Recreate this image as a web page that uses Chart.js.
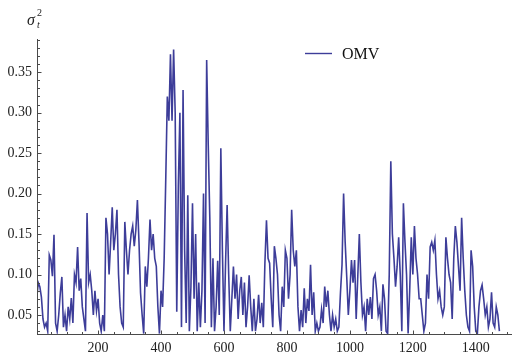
<!DOCTYPE html>
<html>
<head>
<meta charset="utf-8">
<script src="https://cdn.jsdelivr.net/npm/chart.js@4.4.0/dist/chart.umd.min.js"></script>
<style>
  html, body { margin: 0; padding: 0; background: #fff; }
  #grafico { display: block; }
</style>
</head>
<body>
<canvas id="grafico" width="523" height="358"></canvas>
<script>
// conditional variance of OMV, one value every 5 observations
const step = 5;
const sigma2 = [
  0.040, 0.070, 0.090, 0.085, 0.072, 0.045, 0.035, 0.040, 0.030, 0.124,
  0.118, 0.098, 0.149, 0.040, 0.030, 0.050, 0.077, 0.097, 0.035, 0.050,
  0.030, 0.060, 0.045, 0.071, 0.040, 0.100, 0.090, 0.134, 0.080, 0.095,
  0.060, 0.045, 0.030, 0.176, 0.090, 0.100, 0.080, 0.050, 0.080, 0.055,
  0.070, 0.040, 0.030, 0.050, 0.030, 0.170, 0.150, 0.100, 0.140, 0.183,
  0.130, 0.150, 0.180, 0.100, 0.060, 0.040, 0.035, 0.165, 0.130, 0.100,
  0.130, 0.150, 0.160, 0.135, 0.155, 0.192, 0.140, 0.077, 0.050, 0.027,
  0.110, 0.085, 0.120, 0.168, 0.130, 0.150, 0.120, 0.110, 0.060, 0.027,
  0.080, 0.060, 0.120, 0.217, 0.320, 0.290, 0.372, 0.290, 0.378, 0.300,
  0.054, 0.210, 0.300, 0.035, 0.328, 0.130, 0.040, 0.198, 0.030, 0.085,
  0.188, 0.070, 0.150, 0.030, 0.090, 0.035, 0.080, 0.200, 0.040, 0.365,
  0.260, 0.170, 0.035, 0.120, 0.030, 0.060, 0.117, 0.050, 0.256, 0.130,
  0.030, 0.114, 0.186, 0.100, 0.030, 0.070, 0.110, 0.070, 0.100, 0.045,
  0.080, 0.097, 0.050, 0.090, 0.035, 0.060, 0.099, 0.060, 0.030, 0.070,
  0.030, 0.045, 0.075, 0.040, 0.065, 0.035, 0.114, 0.167, 0.120, 0.114,
  0.070, 0.035, 0.135, 0.120, 0.100, 0.050, 0.030, 0.085, 0.060, 0.130,
  0.120, 0.070, 0.100, 0.180, 0.130, 0.110, 0.130, 0.060, 0.030, 0.056,
  0.035, 0.083, 0.040, 0.070, 0.055, 0.112, 0.050, 0.078, 0.030, 0.040,
  0.030, 0.035, 0.057, 0.040, 0.085, 0.060, 0.080, 0.050, 0.030, 0.050,
  0.035, 0.045, 0.030, 0.035, 0.077, 0.112, 0.200, 0.140, 0.097, 0.050,
  0.080, 0.118, 0.090, 0.118, 0.045, 0.097, 0.150, 0.090, 0.050, 0.060,
  0.030, 0.070, 0.050, 0.072, 0.045, 0.095, 0.100, 0.080, 0.050, 0.060,
  0.030, 0.088, 0.070, 0.030, 0.027, 0.100, 0.240, 0.150, 0.120, 0.085,
  0.110, 0.146, 0.100, 0.030, 0.188, 0.140, 0.100, 0.027, 0.080, 0.146,
  0.100, 0.160, 0.120, 0.100, 0.070, 0.070, 0.050, 0.030, 0.040, 0.100,
  0.070, 0.134, 0.140, 0.130, 0.142, 0.100, 0.070, 0.080, 0.060, 0.050,
  0.060, 0.146, 0.120, 0.100, 0.090, 0.045, 0.120, 0.160, 0.140, 0.110,
  0.080, 0.170, 0.120, 0.080, 0.050, 0.035, 0.030, 0.130, 0.110, 0.060,
  0.030, 0.027, 0.060, 0.080, 0.087, 0.070, 0.050, 0.060, 0.035, 0.045,
  0.078, 0.040, 0.035, 0.060, 0.050, 0.030
];
const xTicks = [200, 400, 600, 800, 1000, 1200, 1400];
const yTicks = [0.05, 0.10, 0.15, 0.20, 0.25, 0.30, 0.35];

const corLinha = '#3d3d99';
const corEixo = '#4a4a4a';
const fonteSerif = '"Liberation Serif", "DejaVu Serif", serif';

const pontos = sigma2.map((v, i) => ({ x: i * step, y: v }));

// axes drawn Mathematica style: lines through the origin with inward ticks
const eixosPlugin = {
  id: 'eixos',
  afterDraw(chart) {
    const { ctx, chartArea: a, scales: { x, y } } = chart;
    ctx.save();
    ctx.strokeStyle = corEixo;
    ctx.lineWidth = 1;
    ctx.beginPath();
    const x0 = Math.round(a.left) + 0.5;
    const y0 = Math.round(a.bottom) + 0.5;
    ctx.moveTo(x0, a.top);
    ctx.lineTo(x0, y0);
    ctx.moveTo(a.left, y0);
    ctx.lineTo(a.right, y0);

    // y ticks every 0.01, longer on the labelled ones
    for (let k = 3; k <= 39; k++) {
      const py = Math.round(y.getPixelForValue(k / 100)) + 0.5;
      const len = k % 5 === 0 ? 4 : 2.5;
      ctx.moveTo(x0, py);
      ctx.lineTo(x0 + len, py);
    }
    // x ticks every 50
    for (let v = 50; v <= 1500; v += 50) {
      const px = Math.round(x.getPixelForValue(v)) + 0.5;
      const len = v % 200 === 0 ? 4 : 2.5;
      ctx.moveTo(px, y0);
      ctx.lineTo(px, y0 - len);
    }
    ctx.stroke();

    // axis label sigma_t^2
    ctx.fillStyle = '#222';
    ctx.textBaseline = 'alphabetic';
    ctx.textAlign = 'left';
    ctx.font = 'italic 16px ' + fonteSerif;
    ctx.fillText('σ', 27, 25);
    ctx.font = 'italic 10px ' + fonteSerif;
    ctx.fillText('t', 37, 28);
    ctx.font = '10px ' + fonteSerif;
    ctx.fillText('2', 37, 16);

    // legend
    const ds = chart.data.datasets[0];
    ctx.strokeStyle = ds.borderColor;
    ctx.lineWidth = 1.4;
    ctx.beginPath();
    ctx.moveTo(305, 53.5);
    ctx.lineTo(332, 53.5);
    ctx.stroke();
    ctx.font = '16px ' + fonteSerif;
    ctx.fillStyle = '#111';
    ctx.fillText(ds.label, 342, 59);
    ctx.restore();
  }
};

new Chart(document.getElementById('grafico'), {
  type: 'line',
  data: {
    datasets: [{
      label: 'OMV',
      data: pontos,
      borderColor: corLinha,
      borderWidth: 1.6,
      pointRadius: 0,
      tension: 0,
      fill: false
    }]
  },
  options: {
    responsive: false,
    animation: false,
    devicePixelRatio: 1,
    layout: { padding: { top: 39, right: 11, left: 0, bottom: 0 } },
    plugins: { legend: { display: false }, tooltip: { enabled: false } },
    scales: {
      x: {
        type: 'linear',
        min: 6,
        max: 1515,
        afterFit: s => { s.height = 24; },
        afterBuildTicks: s => { s.ticks = xTicks.map(v => ({ value: v })); },
        grid: { display: false, drawTicks: false },
        border: { display: false },
        ticks: {
          padding: 6,
          maxRotation: 0,
          color: '#222',
          font: { family: fonteSerif, size: 14 },
          callback: v => String(v)
        }
      },
      y: {
        min: 0.0265,
        max: 0.391,
        afterFit: s => { s.width = 37; },
        afterBuildTicks: s => { s.ticks = yTicks.map(v => ({ value: v })); },
        grid: { display: false, drawTicks: false },
        border: { display: false },
        ticks: {
          padding: 5,
          color: '#222',
          font: { family: fonteSerif, size: 14 },
          callback: v => v.toFixed(2)
        }
      }
    }
  },
  plugins: [eixosPlugin]
});
</script>
</body>
</html>
